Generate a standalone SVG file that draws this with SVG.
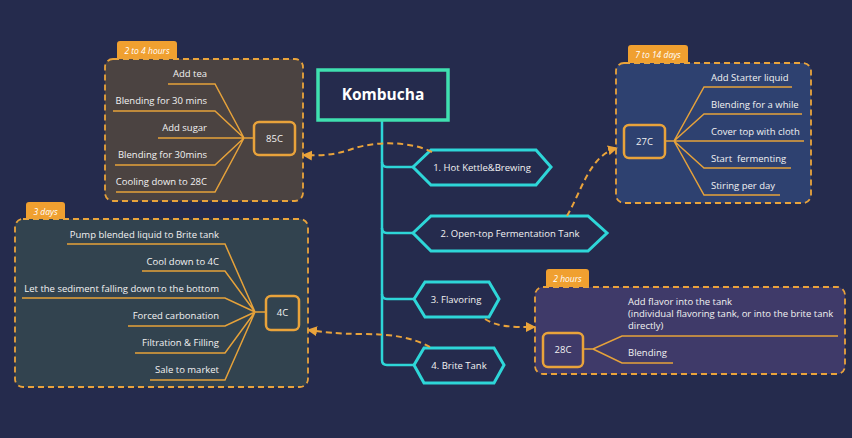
<svg xmlns="http://www.w3.org/2000/svg" width="852" height="438" viewBox="0 0 852 438">
<defs>
<style>
.t{font-family:"Open Sans","Liberation Sans",sans-serif;font-size:9.5px;fill:#f2f2f2}
.tab{font-family:"Open Sans","Liberation Sans",sans-serif;font-size:8.5px;font-style:italic;fill:#fff}
.grp{stroke:#e9a33b;stroke-width:1.8;stroke-dasharray:6 4}
.tabf{fill:#f0a030}
.hub{fill:none;stroke:#e9a33b;stroke-width:2.5}
.ln{fill:none;stroke:#e6a23a;stroke-width:1.5}
.hex{fill:#252b4d;stroke:#2ed6d8;stroke-width:3}
.cn{fill:none;stroke:#e9a33b;stroke-width:2;stroke-dasharray:6 4}
.tr{fill:none;stroke:#2ed6d8;stroke-width:2.5}
</style>
<marker id="ah" viewBox="0 0 10 10" refX="9" refY="5" markerWidth="5" markerHeight="5" orient="auto">
<path d="M0,0 L10,5 L0,10 Z" fill="#e9a33b"/>
</marker>
</defs>
<rect width="852" height="438" fill="#252b4d"/>

<g id="trunk">
<path class="tr" d="M382,120 V360 Q382,365 387,365 H414"/>
<path class="tr" d="M382,162 Q382,167 387,167 H413"/>
<path class="tr" d="M382,228 Q382,233 387,233 H413"/>
<path class="tr" d="M382,294 Q382,299 387,299 H414"/>
</g>

<g id="root">
<rect x="318" y="70" width="130" height="50" fill="#252b4d" stroke="#3fe0b0" stroke-width="3.5"/>
<text x="383" y="100" text-anchor="middle" font-family="'Open Sans','Liberation Sans',sans-serif" font-size="15.5" font-weight="bold" fill="#fff">Kombucha</text>
</g>

<g id="step1">
<polygon class="hex" points="413,167 431,150 536,150 551,167 536,185 431,185"/>
<text class="t" x="482" y="170.5" text-anchor="middle">1. Hot Kettle&amp;Brewing</text>
</g>
<g id="step2">
<polygon class="hex" points="413,233 431,216 588,216 607,233 588,251 431,251"/>
<text class="t" x="510" y="236.5" text-anchor="middle">2. Open-top Fermentation Tank</text>
</g>
<g id="step3">
<polygon class="hex" points="414,299 425,282 489,282 499,299 489,317 425,317"/>
<text class="t" x="456" y="302.5" text-anchor="middle">3. Flavoring</text>
</g>
<g id="step4">
<polygon class="hex" points="414,365 424,348 494,348 504,365 494,383 424,383"/>
<text class="t" x="459" y="368.5" text-anchor="middle">4. Brite Tank</text>
</g>

<g id="group-85C">
<path class="tabf" d="M117,60 V44 Q117,41 120,41 H174 Q177,41 177,44 V60 Z"/>
<text class="tab" x="147" y="53.5" text-anchor="middle">2 to 4 hours</text>
<rect class="grp" x="105" y="59" width="198" height="142" rx="8" fill="#4b4341"/>
<rect class="hub" x="254" y="122" width="41" height="33" rx="5" fill="#4b4341"/>
<text class="t" x="274.5" y="142" text-anchor="middle">85C</text>
<path class="ln" d="M168,84 H215 L244,138 M113,111 H215 L244,138 M158,138 H254 M115,165 H215 L244,138 M116,192 H215 L244,138"/>
<text class="t" x="207" y="77" text-anchor="end">Add tea</text>
<text class="t" x="207" y="104" text-anchor="end">Blending for 30 mins</text>
<text class="t" x="207" y="131" text-anchor="end">Add sugar</text>
<text class="t" x="207" y="158" text-anchor="end">Blending for 30mins</text>
<text class="t" x="207" y="185" text-anchor="end">Cooling down to 28C</text>
</g>

<g id="group-27C">
<path class="tabf" d="M628,64 V48 Q628,45 631,45 H685 Q688,45 688,48 V64 Z"/>
<text class="tab" x="658" y="57.5" text-anchor="middle">7 to 14 days</text>
<rect class="grp" x="616" y="63" width="195" height="140" rx="8" fill="#2e4170"/>
<rect class="hub" x="624" y="125" width="41" height="33" rx="5" fill="#2e4170"/>
<text class="t" x="644.5" y="145" text-anchor="middle">27C</text>
<path class="ln" d="M665,141 H674 M674,141 L704,87 H792 M674,141 L704,114 H802 M674,141 H804 M674,141 L704,168 H791 M674,141 L704,195 H780"/>
<text class="t" x="711" y="81">Add Starter liquid</text>
<text class="t" x="711" y="108">Blending for a while</text>
<text class="t" x="711" y="135">Cover top with cloth</text>
<text class="t" x="711" y="162" xml:space="preserve">Start  fermenting</text>
<text class="t" x="711" y="189">Stiring per day</text>
</g>

<g id="group-4C">
<path class="tabf" d="M26,220 V205 Q26,202 29,202 H62 Q65,202 65,205 V220 Z"/>
<text class="tab" x="45.5" y="214.5" text-anchor="middle">3 days</text>
<rect class="grp" x="15" y="219" width="293" height="168" rx="8" fill="#32434f"/>
<rect class="hub" x="266" y="296" width="33" height="34" rx="5" fill="#32434f"/>
<text class="t" x="282.5" y="316" text-anchor="middle">4C</text>
<path class="ln" d="M255,312 H266 M67,244 H225 L255,312 M142,271 H225 L255,312 M22,298 H225 L255,312 M128,326 H225 L255,312 M135,353 H225 L255,312 M150,380 H225 L255,312"/>
<text class="t" x="219" y="238" text-anchor="end">Pump blended liquid to Brite tank</text>
<text class="t" x="219" y="265" text-anchor="end">Cool down to 4C</text>
<text class="t" x="219" y="292" text-anchor="end">Let the sediment falling down to the bottom</text>
<text class="t" x="219" y="319" text-anchor="end">Forced carbonation</text>
<text class="t" x="219" y="346" text-anchor="end">Filtration &amp; Filling</text>
<text class="t" x="219" y="373" text-anchor="end">Sale to market</text>
</g>

<g id="group-28C">
<path class="tabf" d="M546,288 V272 Q546,269 549,269 H586 Q589,269 589,272 V288 Z"/>
<text class="tab" x="567.5" y="281.5" text-anchor="middle">2 hours</text>
<rect class="grp" x="535" y="287" width="310" height="87" rx="8" fill="#3f3a69"/>
<rect class="hub" x="543" y="333" width="40" height="34" rx="5" fill="#3f3a69"/>
<text class="t" x="563" y="353" text-anchor="middle">28C</text>
<path class="ln" d="M583,349 H593 L622,336 H838 M593,349 L622,363 H673"/>
<text class="t" x="628" y="305">Add flavor into the tank</text>
<text class="t" x="628" y="317">(individual flavoring tank, or into the brite tank</text>
<text class="t" x="628" y="329">directly)</text>
<text class="t" x="628" y="356">Blending</text>
</g>

<g id="connectors">
<path class="cn" marker-end="url(#ah)" d="M432,152 C410,141 375,141 352,149 C335,155 320,156 303,155"/>
<path class="cn" marker-end="url(#ah)" d="M567,216 C582,190 590,155 617,148"/>
<path class="cn" marker-end="url(#ah)" d="M485,319 C497,327 512,327 535,327"/>
<path class="cn" marker-end="url(#ah)" d="M430,347 C412,337 390,334 362,334 C338,334 322,332 308,330"/>
</g>
</svg>
